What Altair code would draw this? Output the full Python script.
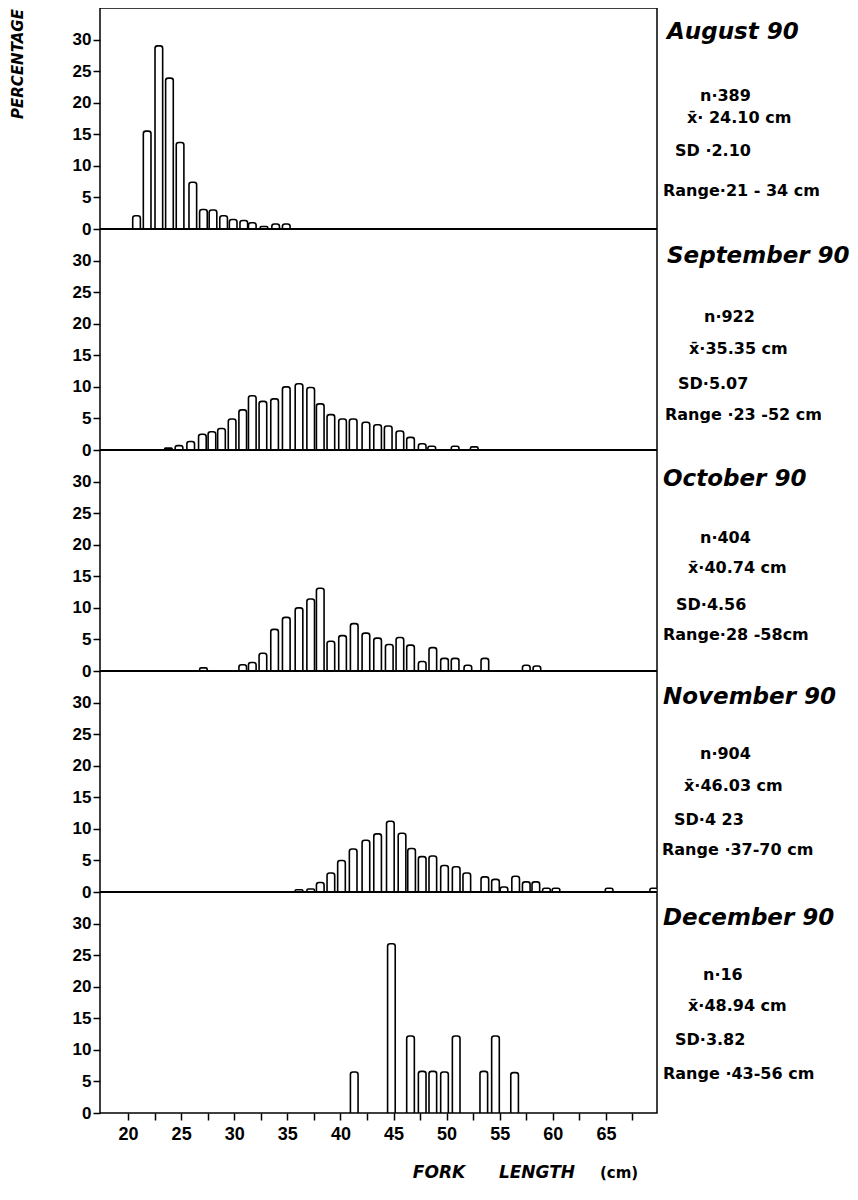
import altair as alt
import pandas as pd

# ---------------- data ----------------
months = ["August 90", "September 90", "October 90", "November 90", "December 90"]

aug_len = [20.8, 21.8, 22.9, 23.9, 24.9, 26.1, 27.1, 28.0, 29.0, 29.9, 30.9, 31.7, 32.8, 33.9, 34.9]
aug_pct = [2.1, 15.5, 29.0, 23.9, 13.7, 7.4, 3.1, 3.0, 2.1, 1.5, 1.35, 1.0, 0.4, 0.8, 0.8]

sep_len = [23.8, 24.8, 25.9, 27.0, 27.9, 28.8, 29.8, 30.8, 31.7, 32.7, 33.8, 34.9, 36.1, 37.2,
           38.1, 39.1, 40.2, 41.2, 42.4, 43.5, 44.5, 45.6, 46.6, 47.7, 48.6, 50.8, 52.6]
sep_pct = [0.3, 0.7, 1.35, 2.5, 2.9, 3.4, 4.9, 6.35, 8.6, 7.7, 8.1, 10.0, 10.5, 9.9,
           7.3, 5.6, 4.9, 4.9, 4.4, 4.0, 3.8, 3.0, 2.0, 1.0, 0.6, 0.6, 0.5]

oct_len = [27.1, 30.8, 31.7, 32.7, 33.8, 34.9, 36.1, 37.2, 38.1, 39.1, 40.2, 41.3, 42.4,
           43.5, 44.6, 45.6, 46.6, 47.7, 48.7, 49.8, 50.8, 52.0, 53.6, 57.5, 58.5]
oct_pct = [0.5, 1.0, 1.35, 2.8, 6.6, 8.5, 10.0, 11.4, 13.1, 4.7, 5.6, 7.5, 6.0,
           5.2, 4.2, 5.3, 4.1, 1.5, 3.7, 2.0, 2.0, 0.9, 2.0, 0.9, 0.8]

nov_len = [36.1, 37.2, 38.1, 39.1, 40.1, 41.2, 42.4, 43.5, 44.7, 45.8, 46.7, 47.7, 48.7,
           49.8, 50.9, 51.9, 53.6, 54.6, 55.4, 56.5, 57.5, 58.4, 59.4, 60.3, 65.3, 69.5]
nov_pct = [0.36, 0.47, 1.5, 3.0, 5.0, 6.8, 8.2, 9.2, 11.2, 9.3, 6.9, 5.6, 5.7,
           4.2, 4.0, 3.0, 2.4, 2.0, 0.8, 2.5, 1.6, 1.6, 0.6, 0.6, 0.6, 0.6]

dec_len = [41.3, 44.8, 46.6, 47.7, 48.7, 49.8, 50.9, 53.5, 54.6, 56.4]
dec_pct = [6.5, 26.8, 12.2, 6.6, 6.6, 6.5, 12.2, 6.6, 12.2, 6.4]

n_labels = ["n\u00b7389", "n\u00b7922", "n\u00b7404", "n\u00b7904", "n\u00b716"]
mean_labels = ["x\u0304\u00b7 24.10 cm", "x\u0304\u00b735.35 cm", "x\u0304\u00b740.74 cm",
               "x\u0304\u00b746.03 cm", "x\u0304\u00b748.94 cm"]
sd_labels = ["SD \u00b72.10", "SD\u00b75.07", "SD\u00b74.56", "SD\u00b74 23", "SD\u00b73.82"]
range_labels = ["Range\u00b721 - 34 cm", "Range \u00b723 -52 cm", "Range\u00b728 -58cm",
                "Range \u00b737-70 cm", "Range \u00b743-56 cm"]

x_tick_values = [20 + 2.5 * i for i in range(20)]   # 20 ... 67.5
y_tick_labels = [0, 5, 10, 15, 20, 25, 30]

# ---------------- layout constants ----------------
W, H = 557, 1105
PAD = {"left": 92, "top": 0, "right": 193, "bottom": 72}
PANEL = 35.0          # percentage units per panel
XDOM = [17.36, 69.81]
HALF_BAR = 0.36

# text positions (pixels relative to plot origin)
title_pos = [(567, 31), (567, 255), (563, 478), (563, 696), (563, 917)]
n_pos = [(600, 93), (604, 314), (600, 535), (600, 751), (603, 972)]
mean_pos = [(587, 115), (589, 346), (588, 565), (584, 783), (588, 1003)]
sd_pos = [(575, 148), (578, 381), (576, 602), (574, 817), (575, 1037)]
range_pos = [(563, 188), (565, 412), (563, 632), (562, 847), (563, 1071)]
XTITLE_Y = 1170

# ---------------- build tables ----------------
series = [(aug_len, aug_pct), (sep_len, sep_pct), (oct_len, oct_pct),
          (nov_len, nov_pct), (dec_len, dec_pct)]
rows = []
for k, (lens, pcts) in enumerate(series):
    off = (4 - k) * PANEL
    for L, p in zip(lens, pcts):
        rows.append({"month": months[k], "x0": L - HALF_BAR, "x1": L + HALF_BAR,
                     "y0": off, "y1": off + p})
bars_df = pd.DataFrame(rows)

yticks = [k * PANEL + v for k in range(5) for v in y_tick_labels]

xscale = alt.Scale(domain=XDOM, nice=False, zero=False)
yscale = alt.Scale(domain=[0, 5 * PANEL], nice=False, zero=False)

bars = alt.Chart(bars_df).mark_bar(
    fill="white", stroke="black", strokeWidth=1.6,
    cornerRadiusTopLeft=2.5, cornerRadiusTopRight=2.5, clip=True
).encode(
    x=alt.X("x0:Q", scale=xscale,
            axis=alt.Axis(values=x_tick_values, title=None,
                          labelExpr="datum.value % 5 == 0 ? datum.label : ''",
                          labelFont="Liberation Sans", labelFontWeight="bold",
                          labelFontSize=18, labelPadding=5, labelColor="black",
                          tickSize=7, tickWidth=1.5, tickColor="black",
                          domain=False, grid=False)),
    x2="x1:Q",
    y=alt.Y("y0:Q", scale=yscale,
            axis=alt.Axis(values=yticks, title=None,
                          labelExpr="format(datum.value % 35, 'd')",
                          labelFont="Liberation Sans Narrow, Liberation Sans",
                          labelFontWeight="bold", labelFontSize=17,
                          labelPadding=2, labelColor="black",
                          tickSize=7, tickWidth=1.5, tickColor="black",
                          domain=False, grid=False)),
    y2="y1:Q",
)

sep_df = pd.DataFrame({"y": [PANEL * i for i in range(1, 5)]})
seps = alt.Chart(sep_df).mark_rule(color="black", strokeWidth=2).encode(
    y=alt.Y("y:Q", scale=yscale, axis=None)
)

title_df = pd.DataFrame({"label": months,
                         "px": [p[0] for p in title_pos],
                         "py": [p[1] for p in title_pos]})
stats_rows = []
for k in range(5):
    for lab, pos in ((n_labels[k], n_pos[k]), (mean_labels[k], mean_pos[k]),
                     (sd_labels[k], sd_pos[k]), (range_labels[k], range_pos[k])):
        stats_rows.append({"label": lab, "px": pos[0], "py": pos[1]})
stats_df = pd.DataFrame(stats_rows)

def text_layer(df, **kw):
    return alt.Chart(df).mark_text(color="black", **kw).encode(
        x=alt.X("px:Q", scale=None, axis=None),
        y=alt.Y("py:Q", scale=None, axis=None),
        text="label:N",
    )

titles = text_layer(title_df, align="left", baseline="alphabetic", font="DejaVu Sans",
                    fontWeight="bold", fontStyle="italic", fontSize=23)
stats = text_layer(stats_df, align="left", baseline="alphabetic", font="DejaVu Sans",
                   fontWeight="bold", fontSize=16)

ylab_df = pd.DataFrame({"label": ["PERCENTAGE"], "px": [-82.5], "py": [56]})
ylab = text_layer(ylab_df, angle=270, align="center", baseline="middle",
                  font="DejaVu Sans", fontWeight="bold", fontStyle="italic", fontSize=15)

xt_df = pd.DataFrame({"label": ["FORK", "LENGTH"], "px": [339, 437],
                      "py": [XTITLE_Y, XTITLE_Y]})
xt = text_layer(xt_df, align="center", baseline="alphabetic", font="DejaVu Sans",
                fontWeight="bold", fontStyle="italic", fontSize=17)

cm_df = pd.DataFrame({"label": ["(cm)"], "px": [519], "py": [XTITLE_Y]})
cm = text_layer(cm_df, align="center", baseline="alphabetic", font="DejaVu Sans",
                fontWeight="bold", fontSize=15)

chart = alt.layer(bars, seps, titles, stats, ylab, xt, cm).resolve_scale(
    x="independent", y="independent"
).properties(
    width=W, height=H,
    autosize=alt.AutoSizeParams(type="none"),
    padding=PAD,
    background="white",
).configure_view(stroke="black", strokeWidth=1.5)

chart.save("out.html", embed_options={"renderer": "svg", "actions": False})
